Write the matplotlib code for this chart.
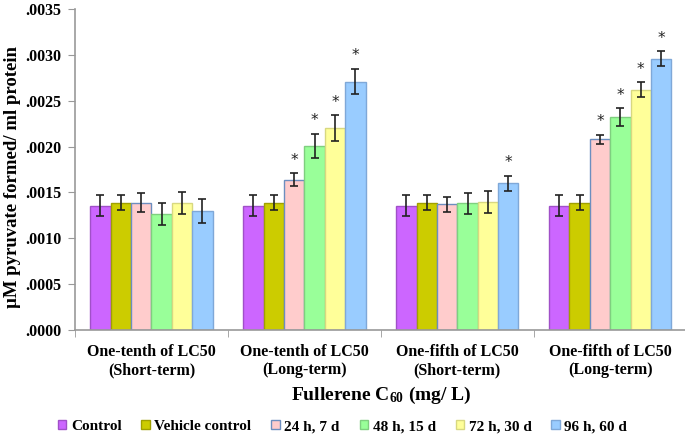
import matplotlib
matplotlib.use("Agg")
import matplotlib.pyplot as plt
import numpy as np
from matplotlib.ticker import FuncFormatter, FixedLocator

plt.rcParams["mathtext.fontset"] = "custom"
plt.rcParams["mathtext.rm"] = "Liberation Serif:bold"
plt.rcParams["mathtext.it"] = "Liberation Serif:bold"
plt.rcParams["mathtext.bf"] = "Liberation Serif:bold"

groups = ["One-tenth of LC50\n(Short-term)", "One-tenth of LC50\n(Long-term)",
          "One-fifth of LC50\n(Short-term)", "One-fifth of LC50\n(Long-term)"]
series = ["Control", "Vehicle control", "24 h, 7 d", "48 h, 15 d", "72 h, 30 d", "96 h, 60 d"]
values = [
    [0.001355, 0.001355, 0.001355, 0.001355],   # Control
    [0.00139, 0.00139, 0.00139, 0.00139],       # Vehicle
    [0.00139, 0.00164, 0.00137, 0.00208],       # 24 h
    [0.00126, 0.00201, 0.00138, 0.00232],       # 48 h
    [0.00138, 0.00220, 0.00140, 0.00262],       # 72 h
    [0.00130, 0.00271, 0.00160, 0.00296],       # 96 h
]
errors = [
    [0.000113, 0.000113, 0.000113, 0.000113],
    [0.000085, 0.000085, 0.000085, 0.000085],
    [0.00010, 0.00007, 0.00008, 0.00005],
    [0.00012, 0.00013, 0.00011, 0.00010],
    [0.00012, 0.00014, 0.00012, 0.00008],
    [0.00013, 0.00014, 0.00008, 0.00008],
]
signif = [
    [False, False, False, False],
    [False, False, False, False],
    [False, True, False, True],
    [False, True, False, True],
    [False, True, False, True],
    [False, True, True, True],
]
colors = ["#CC66FF", "#CCCC00", "#FFCCCC", "#99FF99", "#FFFF99", "#99CCFF"]
edges = ["#A050C8", "#A0A000", "#6C8EBF", "#7FCF7F", "#D8D880", "#7FA8D8"]

fig = plt.figure(figsize=(6.85, 4.34), dpi=100)
ax = fig.add_axes([0.1095, 0.2396, 0.893, 0.7394])

n = len(series)
width = 0.8 / n
x = np.arange(len(groups))
serif = "Liberation Serif"
for i in range(n):
    pos = x - 0.4 + width * (i + 0.5)
    ax.bar(pos, values[i], width=width, color=colors[i], edgecolor=edges[i], linewidth=1.0,
           label=series[i], zorder=2)
    ax.errorbar(pos, values[i], yerr=errors[i], fmt="none", ecolor="#222222",
                elinewidth=1.2, capsize=2.8, capthick=1.2, zorder=3)
    for j in range(len(groups)):
        if signif[i][j]:
            ax.text(pos[j], values[i][j] + errors[i][j] + 0.00006, "*", ha="center",
                    va="bottom", fontsize=11, family="DejaVu Sans", color="#222222")

ax.set_xlim(-0.5, len(groups) - 0.5)
ax.set_ylim(0, 0.0035)
ax.set_yticks(np.arange(0, 0.00351, 0.0005))
ax.yaxis.set_major_formatter(FuncFormatter(lambda v, p: ("%.4f" % v)[1:]))
ax.set_xticks(x)
ax.set_xticklabels(groups, fontsize=11.5, fontweight="bold", family=serif, linespacing=1.2)
ax.xaxis.set_minor_locator(FixedLocator(np.arange(-0.5, len(groups), 1.0)))
ax.tick_params(axis="x", which="major", length=0, pad=10)
ax.tick_params(axis="x", which="minor", length=5, color="#999999")
ax.tick_params(axis="y", length=5, color="#999999", pad=5)
for lab in ax.get_yticklabels():
    lab.set_fontsize(11.5)
    lab.set_fontweight("bold")
    lab.set_family(serif)
for s in ["top", "right"]:
    ax.spines[s].set_visible(False)
for s in ["left", "bottom"]:
    ax.spines[s].set_color("#999999")
    ax.spines[s].set_linewidth(1.2)

ax.set_ylabel("µM pyruvate formed/ ml protein", fontsize=13.5, fontweight="bold", family=serif)
ax.yaxis.set_label_coords(-0.089, 0.477)
ax.set_xlabel("Fullerene C$_{60}$ (mg/ L)", fontsize=14, fontweight="bold", family=serif,
              labelpad=5)

leg = fig.legend(loc="lower center", bbox_to_anchor=(0.5, -0.03), ncol=6, frameon=False,
                 prop={"family": serif, "weight": "bold", "size": 11},
                 handlelength=0.55, handleheight=0.55, handletextpad=0.3, columnspacing=1.3)

fig.savefig("out.png", dpi=100)
